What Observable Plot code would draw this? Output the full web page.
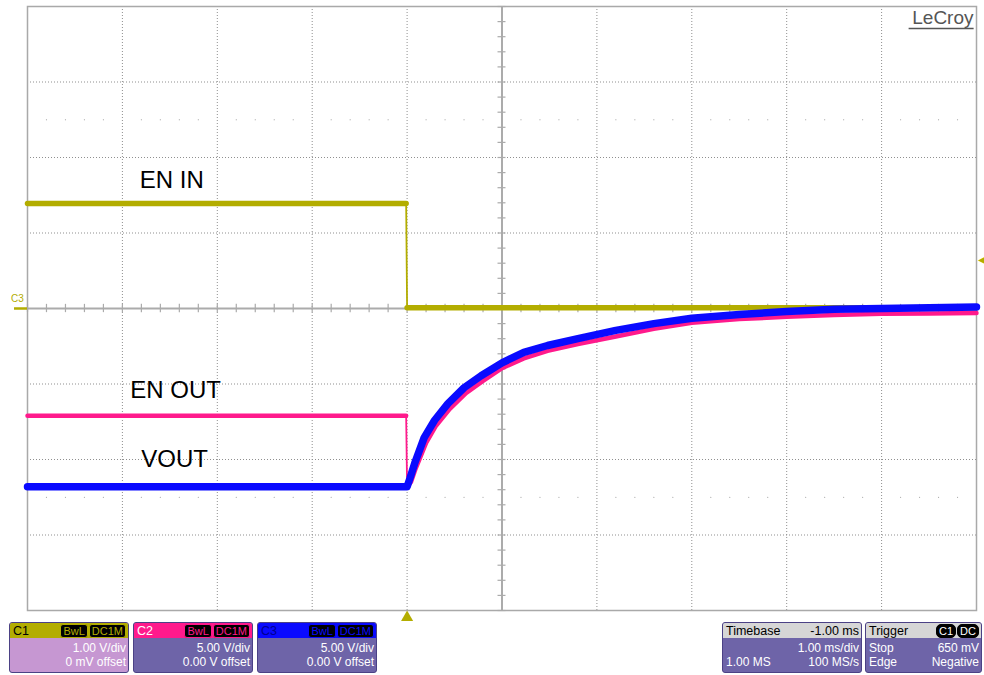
<!DOCTYPE html>
<html>
<head>
<meta charset="utf-8">
<script src="https://cdn.jsdelivr.net/npm/d3@7"></script>
<script src="https://cdn.jsdelivr.net/npm/@observablehq/plot@0.6"></script>
<style>
  html, body { margin: 0; padding: 0; background: #fff; }
  body { width: 984px; height: 675px; position: relative; overflow: hidden; font-family: "Liberation Sans", Arial, sans-serif; }
  #chart { position: absolute; left: 0; top: 0; }
  .panel { position: absolute; top: 622px; height: 51px; border: 1px solid #4b4185; border-radius: 3px; background: #6e64a8; color: #fff; font-size: 12px; overflow: hidden; box-sizing: border-box; }
  .hdr { height: 15px; display: flex; align-items: center; justify-content: space-between; padding: 0 2px 0 3px; color: #000; font-size: 12.5px; }
  .row { height: 14px; line-height: 14px; display: flex; justify-content: space-between; padding: 0 2px 0 3px; }
  .badges { display: flex; gap: 1px; }
  .badge { background: #000; border-radius: 3px; font-size: 11px; line-height: 12px; padding: 0 2px; border: 1px solid; }
</style>
</head>
<body>
<div id="chart"></div>
<div id="panels"></div>
<script>
// ---------- data (time in ms from trigger, value in screen divisions) ----------
const enInT  = [-4, -0.01, 0.0, 6];
const enInV  = [1.39, 1.39, 0.01, 0.01];

const enOutT = [-4, -0.01, 0.0, 0.04, 0.09, 0.2, 0.3, 0.45, 0.62, 0.8, 1.0, 1.23, 1.48, 1.8, 2.2, 2.6, 3.0, 3.5, 4.0, 4.5, 5.0, 5.5, 6.0];
const enOutV = [-1.42, -1.42, -2.36, -2.3, -2.12, -1.78, -1.56, -1.33, -1.12, -0.96, -0.79, -0.66, -0.56, -0.47, -0.37, -0.27, -0.19, -0.14, -0.11, -0.085, -0.07, -0.065, -0.06];

const voutT  = [-4, 0.0, 0.03, 0.08, 0.18, 0.29, 0.43, 0.6, 0.78, 1.0, 1.23, 1.48, 1.8, 2.2, 2.6, 3.0, 3.5, 4.0, 4.5, 5.0, 5.5, 6.0];
const voutV  = [-2.36, -2.36, -2.25, -2.05, -1.71, -1.48, -1.26, -1.05, -0.89, -0.72, -0.58, -0.49, -0.40, -0.29, -0.20, -0.13, -0.08, -0.04, -0.01, 0.0, 0.01, 0.02];

const traceNames = ["EN IN", "EN OUT", "VOUT"];
const traceColors = ["#b3ad00", "#ff1a8c", "#0a0aff"];

const triggerLevel = 0.65; // divisions (650 mV at 1 V/div)

const chNames   = ["C1", "C2", "C3"];
const chScale   = ["1.00 V/div", "5.00 V/div", "5.00 V/div"];
const chOffset  = ["0 mV offset", "0.00 V offset", "0.00 V offset"];
const chBadges  = ["BwL", "DC1M"];

const tbLabels  = ["Timebase", "-1.00 ms", "1.00 ms/div", "1.00 MS", "100 MS/s"];
const trgLabels = ["Trigger", "C1", "DC", "Stop", "650 mV", "Edge", "Negative"];

// ---------- tables ----------
const mk = (T, V) => T.map((t, i) => ({t, v: V[i], seg: t < 0 ? "pre" : "post"}));
const enIn = mk(enInT, enInV);
const enOut = mk(enOutT, enOutV);
const vout = mk(voutT, voutV);

const gridX = d3.range(-3, 6);          // vertical division lines
const gridY = d3.range(-3, 4);          // horizontal division lines
const minorX = d3.range(-4, 6.001, 0.2);
const minorY = d3.range(-4, 4.001, 0.2);
const dotRowX = d3.range(-3.8, 6, 0.2).filter(d => Math.abs(d - Math.round(d)) > 0.05);

const plot = Plot.plot({
  width: 984,
  height: 621,
  marginLeft: 27,
  marginRight: 8,
  marginTop: 6,
  marginBottom: 11,
  x: {domain: [-4, 6], axis: null},
  y: {domain: [-4, 4], axis: null},
  style: {background: "#fff", fontFamily: "'Liberation Sans', Arial, sans-serif", overflow: "visible"},
  marks: [
    // dotted division grid
    Plot.ruleX(gridX.filter(d => d !== 1), {x: d => d, stroke: "#8f8f8f", strokeWidth: 1, strokeDasharray: "1,2"}),
    Plot.ruleY(gridY.filter(d => d !== 0), {y: d => d, stroke: "#8f8f8f", strokeWidth: 1, strokeDasharray: "1,2"}),
    // dot rows at +/- 2.5 div
    Plot.dot(dotRowX, {x: d => d, y: 2.5, r: 0.6, fill: "#999", stroke: null}),
    Plot.dot(dotRowX, {x: d => d, y: -2.5, r: 0.6, fill: "#999", stroke: null}),
    // center cross
    Plot.ruleX([1], {stroke: "#ababab", strokeWidth: 2}),
    Plot.ruleY([0], {stroke: "#ababab", strokeWidth: 2}),
    Plot.ruleX(minorX, {x: d => d, y1: -0.055, y2: 0.055, stroke: "#ababab", strokeWidth: 1.2}),
    Plot.ruleY(minorY, {y: d => d, x1: 1 - 0.042, x2: 1 + 0.042, stroke: "#ababab", strokeWidth: 1.2}),
    Plot.frame({stroke: "#a9a9a9", strokeWidth: 1.5}),
    // EN IN (C1)
    Plot.line(enIn, {x: "t", y: "v", stroke: traceColors[0], strokeWidth: 1.8}),
    Plot.line(enIn, {x: "t", y: "v", z: "seg", stroke: traceColors[0], strokeWidth: 5.5}),
    // EN OUT (C2)
    Plot.line(enOut, {x: "t", y: "v", stroke: traceColors[1], strokeWidth: 1.8}),
    Plot.line(enOut, {x: "t", y: "v", z: "seg", stroke: traceColors[1], strokeWidth: 4.5}),
    // VOUT (C3)
    Plot.line(vout, {x: "t", y: "v", stroke: traceColors[2], strokeWidth: 7.5}),
    // trace labels
    Plot.text([traceNames[0]], {x: -2.48, y: 1.70, text: d => d, fontSize: 24, fill: "#000"}),
    Plot.text([traceNames[1]], {x: -2.44, y: -1.09, text: d => d, fontSize: 24, fill: "#000"}),
    Plot.text([traceNames[2]], {x: -2.45, y: -2.0, text: d => d, fontSize: 24, fill: "#000"}),
    // channel ground marker and label
    Plot.ruleY([0], {x1: -4, x2: -4, insetLeft: -13, stroke: traceColors[0], strokeWidth: 2.5}),
    Plot.text(["C3"], {x: -4, y: 0, dx: -10, dy: -10, fontSize: 10, fill: "#b3ad00"}),
    // trigger time marker (bottom) and trigger level marker (right)
    Plot.dot([0], {x: d => d, y: -4, dy: 7, symbol: "triangle", r: 4.5, fill: traceColors[0], stroke: null}),
    Plot.text(["◀"], {x: 6, y: triggerLevel, dx: 5, fontSize: 10, fill: traceColors[0]}),
    // brand
    Plot.text(["LeCroy"], {frameAnchor: "top-right", dx: -3, dy: 4, lineAnchor: "top", textAnchor: "end", fontSize: 19, fill: "#555"}),
    Plot.ruleY([4], {x1: 5.29, x2: 5.975, dy: 22, stroke: "#555", strokeWidth: 1.5})
  ]
});
document.getElementById("chart").appendChild(plot);

// ---------- bottom info panels ----------
const panels = document.getElementById("panels");
const chHdrBg = ["#b3ad00", "#ff1a8c", "#0a0aff"];
const chHdrFg = ["#000", "#fff", "#000090"];
const chBodyBg = ["#c697d2", "#6e64a8", "#6e64a8"];
const chLeft = [9, 133, 257];
chNames.forEach((name, i) => {
  const p = document.createElement("div");
  p.className = "panel";
  p.style.left = chLeft[i] + "px";
  p.style.width = "120px";
  p.style.background = chBodyBg[i];
  p.innerHTML =
    `<div class="hdr" style="background:${chHdrBg[i]};color:${chHdrFg[i]}"><span>${name}</span>` +
    `<span class="badges">${chBadges.map(b => `<span class="badge" style="color:${chHdrBg[i]};border-color:${chHdrBg[i]}">${b}</span>`).join("")}</span></div>` +
    `<div class="row" style="margin-top:3px"><span></span><span>${chScale[i]}</span></div>` +
    `<div class="row"><span></span><span>${chOffset[i]}</span></div>`;
  panels.appendChild(p);
});
const tb = document.createElement("div");
tb.className = "panel";
tb.style.left = "722px";
tb.style.width = "140px";
tb.innerHTML =
  `<div class="hdr" style="background:#d6d6d6"><span>${tbLabels[0]}</span><span>${tbLabels[1]}</span></div>` +
  `<div class="row" style="margin-top:3px"><span></span><span>${tbLabels[2]}</span></div>` +
  `<div class="row"><span>${tbLabels[3]}</span><span>${tbLabels[4]}</span></div>`;
panels.appendChild(tb);
const tr = document.createElement("div");
tr.className = "panel";
tr.style.left = "865px";
tr.style.width = "117px";
tr.innerHTML =
  `<div class="hdr" style="background:#d6d6d6"><span>${trgLabels[0]}</span>` +
  `<span class="badges"><span class="badge" style="color:#fff;border-color:#000;border-radius:5px">${trgLabels[1]}</span><span class="badge" style="color:#fff;border-color:#000;border-radius:5px">${trgLabels[2]}</span></span></div>` +
  `<div class="row" style="margin-top:3px"><span>${trgLabels[3]}</span><span>${trgLabels[4]}</span></div>` +
  `<div class="row"><span>${trgLabels[5]}</span><span>${trgLabels[6]}</span></div>`;
panels.appendChild(tr);
</script>
</body>
</html>
